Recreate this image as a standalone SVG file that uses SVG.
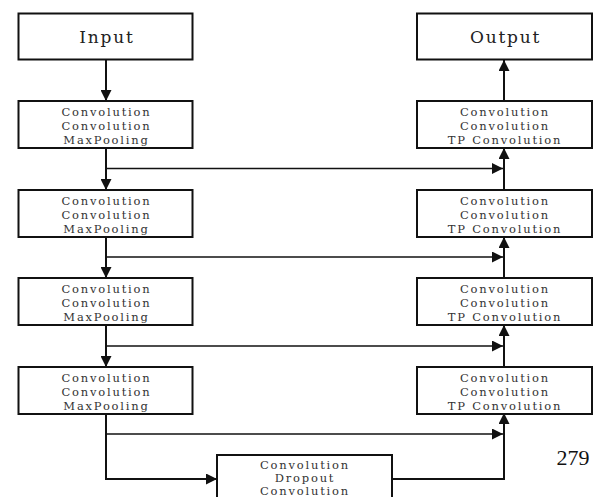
<svg xmlns="http://www.w3.org/2000/svg" width="595" height="497" viewBox="0 0 595 497">
<defs>
<style>
.box{fill:#fff;stroke:#111;stroke-width:2}
.t{font-family:"DejaVu Serif","Liberation Serif",serif;font-size:11.5px;letter-spacing:1.8px;text-anchor:middle;fill:#333}
.big{font-family:"DejaVu Serif","Liberation Serif",serif;font-size:17px;letter-spacing:1.8px;text-anchor:middle;fill:#222}
.c{fill:none;stroke:#111;stroke-width:2}
.s{fill:none;stroke:#111;stroke-width:1.6}
</style>
<marker id="ah" markerUnits="userSpaceOnUse" markerWidth="11" markerHeight="11" refX="11" refY="5.5" orient="auto">
<path d="M0,0 L11,5.5 L0,11 Z" fill="#111"/>
</marker>
</defs>
<rect width="595" height="497" fill="#fff"/>
<g id="connectors">
<line class="c" x1="106" y1="60" x2="106" y2="101" marker-end="url(#ah)"/>
<line class="c" x1="106" y1="148" x2="106" y2="190" marker-end="url(#ah)"/>
<line class="c" x1="106" y1="237" x2="106" y2="278" marker-end="url(#ah)"/>
<line class="c" x1="106" y1="325" x2="106" y2="367" marker-end="url(#ah)"/>
<polyline class="c" points="106,413 106,479 217,479" marker-end="url(#ah)"/>
<polyline class="c" points="392,479 504,479 504,413" marker-end="url(#ah)"/>
<line class="c" x1="504" y1="367" x2="504" y2="325" marker-end="url(#ah)"/>
<line class="c" x1="504" y1="278" x2="504" y2="237" marker-end="url(#ah)"/>
<line class="c" x1="504" y1="190" x2="504" y2="148" marker-end="url(#ah)"/>
<line class="c" x1="504" y1="101" x2="504" y2="60" marker-end="url(#ah)"/>
<line class="s" x1="106" y1="168.5" x2="503" y2="168.5" marker-end="url(#ah)"/>
<line class="s" x1="106" y1="257" x2="503" y2="257" marker-end="url(#ah)"/>
<line class="s" x1="106" y1="346" x2="503" y2="346" marker-end="url(#ah)"/>
<line class="s" x1="106" y1="434" x2="503" y2="434" marker-end="url(#ah)"/>
</g>
<g id="input"><rect class="box" x="18.5" y="13.5" width="174" height="46"/><text class="big" x="107" y="42.5">Input</text></g>
<g id="output"><rect class="box" x="417" y="13.5" width="175" height="46"/><text class="big" x="505.5" y="42.5">Output</text></g>
<g id="enc1"><rect class="box" x="18.5" y="101" width="174" height="47"/>
<text class="t" x="106.5" y="116">Convolution</text><text class="t" x="106.5" y="130">Convolution</text><text class="t" x="106.5" y="144">MaxPooling</text></g>
<g id="enc2"><rect class="box" x="18.5" y="190" width="174" height="47"/>
<text class="t" x="106.5" y="205">Convolution</text><text class="t" x="106.5" y="219">Convolution</text><text class="t" x="106.5" y="233">MaxPooling</text></g>
<g id="enc3"><rect class="box" x="18.5" y="278" width="174" height="47"/>
<text class="t" x="106.5" y="293">Convolution</text><text class="t" x="106.5" y="307">Convolution</text><text class="t" x="106.5" y="321">MaxPooling</text></g>
<g id="enc4"><rect class="box" x="18.5" y="367" width="174" height="47"/>
<text class="t" x="106.5" y="382">Convolution</text><text class="t" x="106.5" y="396">Convolution</text><text class="t" x="106.5" y="410">MaxPooling</text></g>
<g id="dec1"><rect class="box" x="417" y="101" width="175" height="47"/>
<text class="t" x="505" y="116">Convolution</text><text class="t" x="505" y="130">Convolution</text><text class="t" x="505" y="144">TP Convolution</text></g>
<g id="dec2"><rect class="box" x="417" y="190" width="175" height="47"/>
<text class="t" x="505" y="205">Convolution</text><text class="t" x="505" y="219">Convolution</text><text class="t" x="505" y="233">TP Convolution</text></g>
<g id="dec3"><rect class="box" x="417" y="278" width="175" height="47"/>
<text class="t" x="505" y="293">Convolution</text><text class="t" x="505" y="307">Convolution</text><text class="t" x="505" y="321">TP Convolution</text></g>
<g id="dec4"><rect class="box" x="417" y="367" width="175" height="47"/>
<text class="t" x="505" y="382">Convolution</text><text class="t" x="505" y="396">Convolution</text><text class="t" x="505" y="410">TP Convolution</text></g>
<g id="bottleneck"><rect class="box" x="217" y="455" width="175" height="50"/>
<text class="t" x="305" y="468.5">Convolution</text><text class="t" x="305" y="482">Dropout</text><text class="t" x="305" y="494.5">Convolution</text></g>
<text x="573" y="465" font-family="'Liberation Serif','Times New Roman',serif" font-size="22" text-anchor="middle" fill="#111">279</text>
</svg>
